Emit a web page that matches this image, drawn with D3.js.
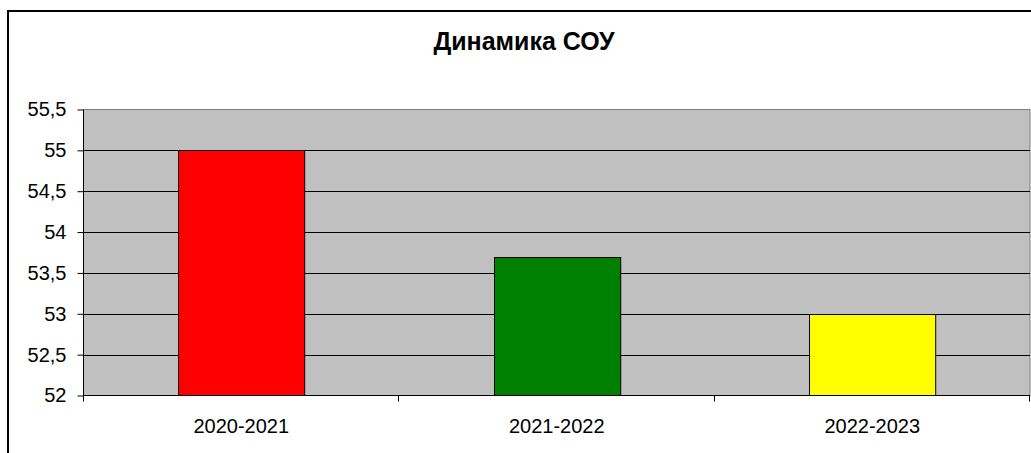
<!DOCTYPE html>
<html>
<head>
<meta charset="utf-8">
<script src="https://cdn.jsdelivr.net/npm/d3@7"></script>
<style>
  body { margin: 0; background: #fff; }
  svg { display: block; }
  svg text { font-family: Arial, "Liberation Sans", sans-serif; }
</style>
</head>
<body>
<div id="chart"></div>
<script>
const categories = ["2020-2021", "2021-2022", "2022-2023"];
const values = [55, 53.7, 53];
const barColors = ["#ff0000", "#008000", "#ffff00"];
const yTicks = [52, 52.5, 53, 53.5, 54, 54.5, 55, 55.5];
const title = "Динамика СОУ";

const width = 1031, height = 453;
const plot = { left: 83.5, top: 109.5, right: 1030, bottom: 395.5 };

const svg = d3.select("#chart").append("svg")
    .attr("width", width)
    .attr("height", height);

// outer frame
svg.append("rect")
    .attr("x", 8).attr("y", 11)
    .attr("width", 1040).attr("height", 460)
    .attr("fill", "#fff")
    .attr("stroke", "#000")
    .attr("stroke-width", 2);

svg.append("text")
    .attr("x", 524).attr("y", 50)
    .attr("text-anchor", "middle")
    .style("font-size", "25px")
    .style("font-weight", "bold")
    .text(title);

const x = d3.scaleBand()
    .domain(categories)
    .range([plot.left, plot.right])
    .paddingInner(0.6)
    .paddingOuter(0.3);

const y = d3.scaleLinear()
    .domain([52, 55.5])
    .range([plot.bottom, plot.top]);

// plot background
svg.append("rect")
    .attr("x", plot.left).attr("y", plot.top)
    .attr("width", plot.right - plot.left)
    .attr("height", plot.bottom - plot.top)
    .attr("fill", "#c0c0c0")
    .attr("stroke", "#808080")
    .attr("stroke-width", 1);

// gridlines
svg.selectAll(".grid")
    .data(yTicks.filter(d => d > 52 && d < 55.5))
    .enter().append("line")
    .attr("x1", plot.left).attr("x2", plot.right)
    .attr("y1", d => Math.round(y(d)) + 0.5)
    .attr("y2", d => Math.round(y(d)) + 0.5)
    .attr("stroke", "#000");

// bars
svg.selectAll(".bar")
    .data(values)
    .enter().append("rect")
    .attr("x", (d, i) => Math.round(x(categories[i])) + 0.5)
    .attr("y", d => Math.round(y(d)) + 0.5)
    .attr("width", x.bandwidth())
    .attr("height", d => plot.bottom - Math.round(y(d)) - 0.5)
    .attr("fill", (d, i) => barColors[i])
    .attr("stroke", "#000");

// y axis
const yAxis = d3.axisLeft(y)
    .tickValues(yTicks)
    .tickSize(6)
    .tickFormat(d => String(d).replace(".", ","));
const ya = svg.append("g")
    .attr("transform", `translate(${plot.left},0)`)
    .call(yAxis);
ya.attr("font-family", null).attr("font-size", null);
ya.selectAll("text").style("font-size", "20px").attr("fill", "#000").attr("x", -17);
ya.selectAll("line").attr("stroke", "#000");
ya.select(".domain").attr("stroke", "#000").attr("d", `M0,${plot.top}V${plot.bottom}`);

// x axis: boundary ticks
const step = (plot.right - plot.left) / categories.length;
const xTicks = d3.range(categories.length + 1).map(i => plot.left + i * step);
svg.append("line")
    .attr("x1", plot.left).attr("x2", plot.right)
    .attr("y1", plot.bottom).attr("y2", plot.bottom)
    .attr("stroke", "#000");
svg.selectAll(".xtick")
    .data(xTicks)
    .enter().append("line")
    .attr("x1", d => Math.round(d) - 0.5).attr("x2", d => Math.round(d) - 0.5)
    .attr("y1", plot.bottom).attr("y2", plot.bottom + 6)
    .attr("stroke", "#000");
svg.selectAll(".xlabel")
    .data(categories)
    .enter().append("text")
    .attr("x", d => x(d) + x.bandwidth() / 2)
    .attr("y", 433)
    .attr("text-anchor", "middle")
    .style("font-size", "20px")
    .text(d => d);
</script>
</body>
</html>
